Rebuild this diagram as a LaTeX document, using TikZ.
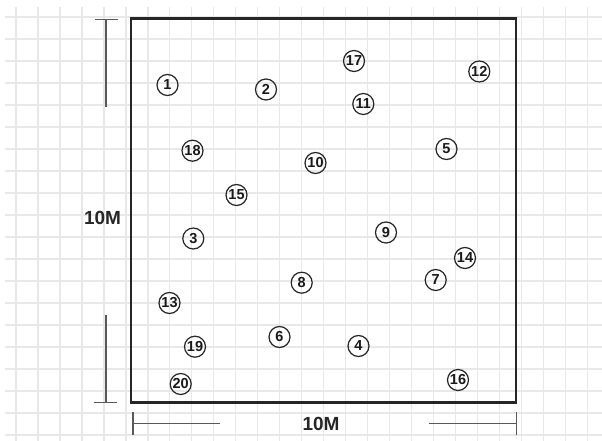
\documentclass[tikz,border=0pt]{standalone}
\usepackage{fontspec}
\setmainfont{Liberation Sans}
\begin{document}
\begin{tikzpicture}[x=1pt, y=-1pt]
    \tikzset{
        gridline/.style={line width=1.4pt, black!9},
        plot/.style={line width=2.2pt, black!85},
        dimline/.style={line width=1.2pt, black!65},
        dimlabel/.style={font=\fontsize{19}{19}\selectfont\bfseries, text=black!85},
        spot/.style={circle, draw=black!85, line width=1.2pt, minimum size=21pt,
                     inner sep=0pt, font=\fontsize{14.5}{14.5}\selectfont\bfseries, text=black!90}
    }
    % 1. Khung trang và nền
    \useasboundingbox (0,0) rectangle (602,441);
    \fill[white] (0,0) rectangle (602,441);

    % 2. Lưới ô vuông
    \foreach \k in {0,...,26} {
        \draw[gridline] ({16+21.97*\k},7) -- ({16+21.97*\k},441);
    }
    \foreach \k in {0,...,19} {
        \draw[gridline] (5,{17+22*\k}) -- (602,{17+22*\k});
    }

    % 3. Ô đất 10M x 10M
    \path (131,18.5)  coordinate (TL)
          (516,18.5)  coordinate (TR)
          (516,402.5) coordinate (BR)
          (131,402.5) coordinate (BL);
    \draw[plot] (TL) -- (TR) -- (BR) -- (BL) -- cycle;

    % 4. Kích thước cạnh đứng
    \node[dimlabel] (vlabel) at (102.5,217.5) {10M};
    \path (106,19.5)  coordinate (V1)
          (106,107)   coordinate (V2)
          (106,315)   coordinate (V3)
          (106,402.7) coordinate (V4)
          (95,19.5)   coordinate (V1a)
          (118,19.5)  coordinate (V1b)
          (94,402.7)  coordinate (V4a)
          (117,402.7) coordinate (V4b);
    \draw[dimline] (V1a) -- (V1b);
    \draw[dimline] (V1) -- (V2);
    \draw[dimline] (V3) -- (V4);
    \draw[dimline] (V4a) -- (V4b);

    % 5. Kích thước cạnh ngang
    \node[dimlabel] (hlabel) at (321,424) {10M};
    \path (133,423.5)   coordinate (H1)
          (220,423.5)   coordinate (H2)
          (429,423.5)   coordinate (H3)
          (516.5,423.5) coordinate (H4)
          (133,412)     coordinate (H1a)
          (133,435)     coordinate (H1b)
          (516.5,412)   coordinate (H4a)
          (516.5,435)   coordinate (H4b);
    \draw[dimline] (H1a) -- (H1b);
    \draw[dimline] (H1) -- (H2);
    \draw[dimline] (H3) -- (H4);
    \draw[dimline] (H4a) -- (H4b);

    % 6. Các điểm đánh số
    \foreach \n/\px/\py in {1/167.5/85, 2/266/89.5, 3/193.3/238.5, 4/358.5/346,
                            5/446.5/149, 6/279.5/337, 7/435.7/280, 8/301.7/282.7,
                            9/386/232.5, 10/315.5/163, 11/363.3/104, 12/479.3/71.5,
                            13/169.5/303, 14/465/258, 15/236.5/195, 16/458/380,
                            17/354/61, 18/192.5/150.7, 19/195/346.7, 20/180.7/384} {
        \node[spot] (n\n) at (\px,\py) {\n};
    }
\end{tikzpicture}
\end{document}
